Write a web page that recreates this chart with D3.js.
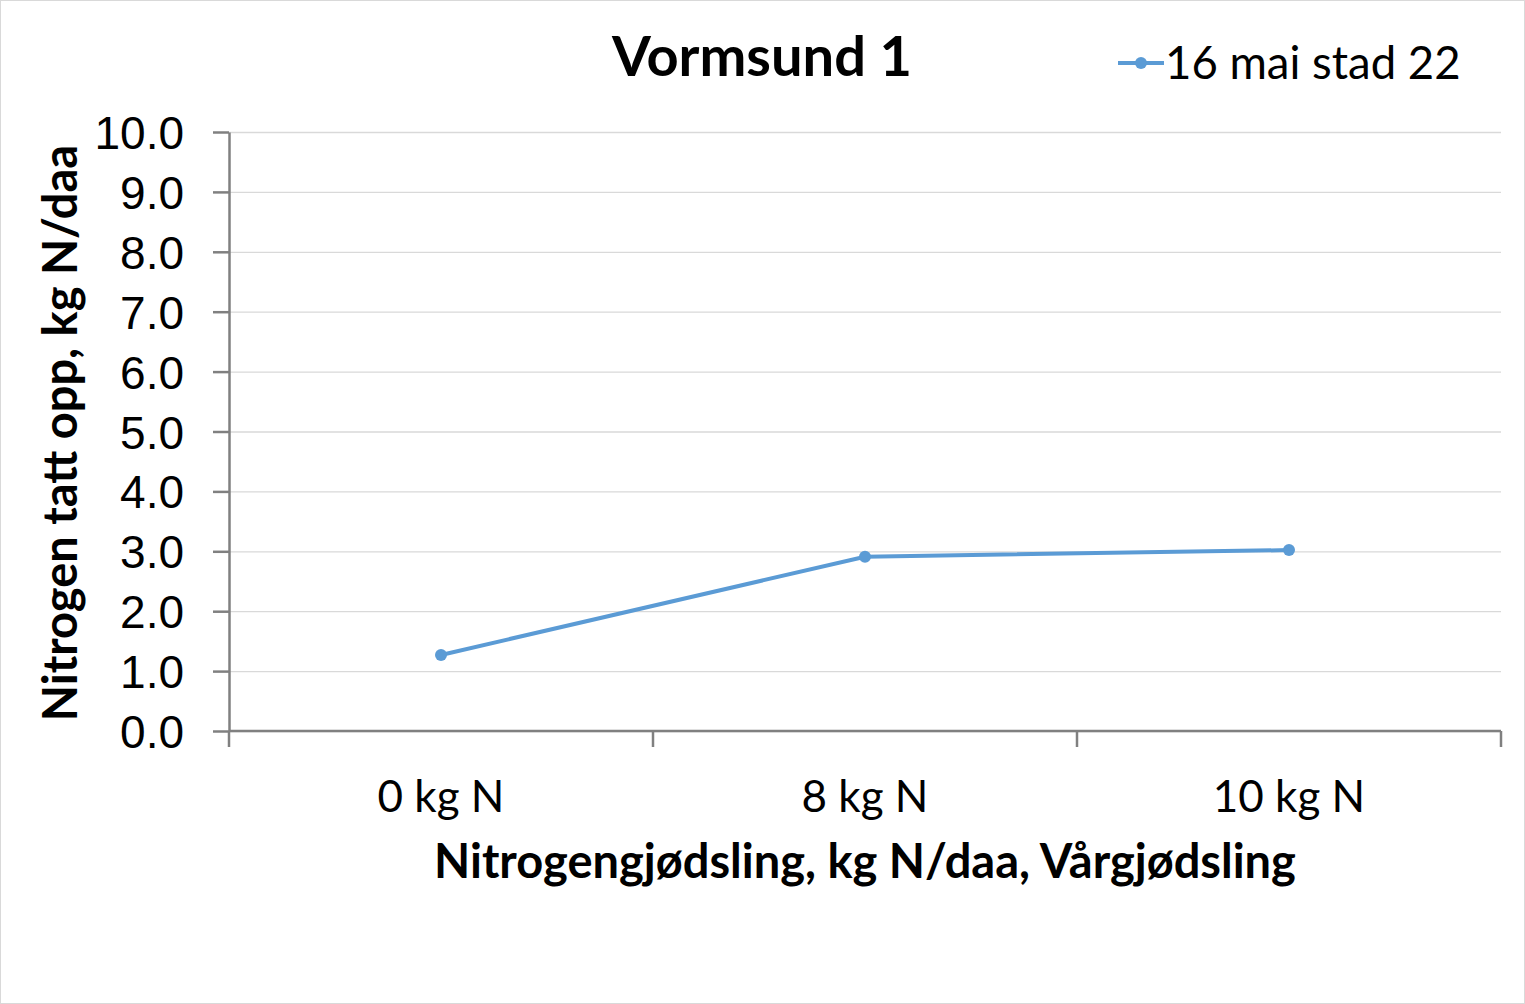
<!DOCTYPE html>
<html>
<head>
<meta charset="utf-8">
<script src="https://cdn.jsdelivr.net/npm/d3@7"></script>
<style>
  body { margin: 0; background: #fff; }
  svg { display: block; font-family: Lato, "Open Sans", sans-serif; }
</style>
</head>
<body>
<div id="chart"></div>
<script>
const categories = ["0 kg N", "8 kg N", "10 kg N"];
const seriesName = "16 mai stad 22";
const values = [1.27, 2.91, 3.02];
const yTicks = [0, 1, 2, 3, 4, 5, 6, 7, 8, 9, 10];

const W = 1525, H = 1004;
const margin = { top: 132, right: 24, bottom: 273, left: 229 };
const width = W - margin.left - margin.right;
const height = H - margin.top - margin.bottom;

const svg = d3.select("#chart").append("svg")
    .attr("width", W)
    .attr("height", H);

// outer chart border
svg.append("rect")
    .attr("x", 0.5).attr("y", 0.5)
    .attr("width", W - 1).attr("height", H - 1)
    .attr("fill", "#fff")
    .attr("stroke", "#d9d9d9");

const g = svg.append("g")
    .attr("transform", `translate(${margin.left},${margin.top})`);

const x = d3.scaleBand().domain(categories).range([0, width]);
const y = d3.scaleLinear().domain([0, 10]).range([height, 0]);

// Grid lines
g.append("g")
    .call(d3.axisLeft(y).tickValues(yTicks).tickSize(-width).tickFormat(""))
    .call(s => s.select(".domain").remove())
    .selectAll("line")
    .attr("stroke", "#d9d9d9")
    .attr("stroke-width", 1.3);

// Y axis
const yAxis = g.append("g")
    .call(d3.axisLeft(y).tickValues(yTicks).tickSize(16).tickSizeOuter(0).tickFormat(d3.format(".1f")));
yAxis.select(".domain").attr("stroke", "#808080").attr("stroke-width", 2.5);
yAxis.selectAll(".tick line").attr("stroke", "#808080").attr("stroke-width", 2.5);
yAxis.selectAll("text")
    .attr("x", -45)
    .attr("dy", "0.36em")
    .attr("fill", "#000")
    .style("font-size", "46px");

// X axis: ticks on band boundaries
const xAxis = g.append("g").attr("transform", `translate(0,${height})`);
xAxis.append("line")
    .attr("x1", 0).attr("x2", width)
    .attr("stroke", "#808080").attr("stroke-width", 2.5);
const bounds = categories.map(c => x(c)).concat([width]);
xAxis.selectAll(".bt").data(bounds).enter().append("line")
    .attr("x1", d => d).attr("x2", d => d)
    .attr("y1", 0).attr("y2", 16)
    .attr("stroke", "#808080").attr("stroke-width", 2.5);
xAxis.selectAll(".xl").data(categories).enter().append("text")
    .attr("x", d => x(d) + x.bandwidth() / 2)
    .attr("y", 81)
    .attr("text-anchor", "middle")
    .attr("fill", "#000")
    .style("font-size", "44px")
    .text(d => d);

// Line
const line = d3.line()
    .x((d, i) => x(categories[i]) + x.bandwidth() / 2)
    .y(d => y(d));

g.append("path")
    .datum(values)
    .attr("fill", "none")
    .attr("stroke", "#5b9bd5")
    .attr("stroke-width", 4)
    .attr("stroke-linejoin", "round")
    .attr("d", line);

g.selectAll(".dot").data(values).enter().append("circle")
    .attr("cx", (d, i) => x(categories[i]) + x.bandwidth() / 2)
    .attr("cy", d => y(d))
    .attr("r", 6)
    .attr("fill", "#5b9bd5");

// Title
svg.append("text")
    .attr("x", 762).attr("y", 76)
    .attr("text-anchor", "middle")
    .style("font-size", "56px")
    .style("font-weight", "bold")
    .text("Vormsund 1");

// Legend
const legend = svg.append("g").attr("transform", "translate(1118,63)");
legend.append("line")
    .attr("x1", 0).attr("x2", 46)
    .attr("stroke", "#5b9bd5").attr("stroke-width", 4);
legend.append("circle").attr("cx", 23).attr("r", 6).attr("fill", "#5b9bd5");
legend.append("text")
    .attr("x", 47).attr("y", 16)
    .style("font-size", "45.5px")
    .text(seriesName);

// Axis titles
svg.append("text")
    .attr("x", 865).attr("y", 878)
    .attr("text-anchor", "middle")
    .style("font-size", "47px")
    .style("font-weight", "bold")
    .text("Nitrogengjødsling, kg N/daa, Vårgjødsling");

svg.append("text")
    .attr("transform", "translate(77,433) rotate(-90)")
    .attr("text-anchor", "middle")
    .style("font-size", "47px")
    .style("font-weight", "bold")
    .text("Nitrogen tatt opp, kg N/daa");
</script>
</body>
</html>
